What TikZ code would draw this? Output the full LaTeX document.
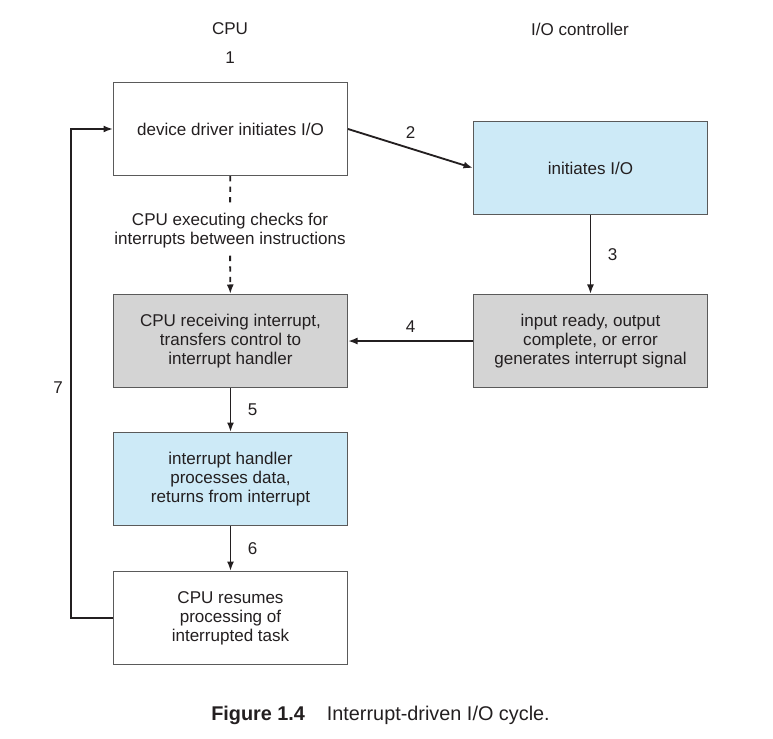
\documentclass[tikz,border=0pt]{standalone}
\usepackage{fontspec}
\setmainfont{Liberation Sans}
\usepackage{xcolor}
\definecolor{ioblue}{HTML}{CDEAF7}
\definecolor{iogray}{HTML}{D4D4D4}
\definecolor{edge}{HTML}{5A5A5A}
\definecolor{ink}{HTML}{231F20}
\usepackage{tikz}
\usetikzlibrary{arrows.meta, positioning}

\begin{document}
\begin{tikzpicture}[
    x=0.02cm, y=-0.02cm,
    node distance=2.36cm and 2.5cm,
    box/.style={
        rectangle, draw=edge, line width=0.6pt,
        minimum width=4.68cm,
        minimum height=1.86cm,
        align=center, font=\fontsize{9.7}{10.9}\selectfont, text=ink
    },
    lbl/.style={font=\fontsize{9.7}{10.9}\selectfont, text=ink},
    arr/.style={-{Latex[length=1.9mm, width=1.4mm]}, line width=1.05pt, draw=ink}
]
    \useasboundingbox (0,0) rectangle (773,739);

    \node[box, fill=white] (drv) at (230.5,129) {device driver initiates I/O};
    \node[box, fill=iogray, below=of drv] (recv) {CPU receiving interrupt,\\transfers control to\\interrupt handler};
    \node[box, fill=ioblue, below=0.88cm of recv] (hdl) {interrupt handler\\processes data,\\returns from interrupt};
    \node[box, fill=white, below=0.9cm of hdl] (resume) {CPU resumes\\processing of\\interrupted task};
    \node[box, fill=iogray, right=of recv] (sig) {input ready, output\\complete, or error\\generates interrupt signal};
    \node[box, fill=ioblue, above=1.58cm of sig] (init) {initiates I/O};

    % column headings
    \node[lbl] (cpu) at (230,29) {CPU};
    \node[lbl] (ioc) at (580,29) {I/O controller};
    \node[lbl] (n1) at (230,58) {1};

    % CPU polling
    \node[lbl, align=center, inner ysep=4.2pt] (chk) at (230,230.5) {CPU executing checks for\\interrupts between instructions};
    \draw[ink, dashed, line width=1.05pt] (drv) -- (chk);
    \draw[arr, dashed] (chk) -- (recv);

    \draw[arr] (drv.east) -- (init.west) node[lbl, pos=0.5, above=2pt] {2};
    \draw[arr] (init) -- (sig) node[lbl, midway, right=6pt] {3};
    \draw[arr] (sig) -- (recv) node[lbl, midway, above=1pt] {4};
    \draw[arr] (recv) -- (hdl) node[lbl, midway, right=6pt] {5};
    \draw[arr] (hdl) -- (resume) node[lbl, midway, right=6pt] {6};
    \draw[arr] (resume.west) -- ++(-42,0) |- (drv.west);
    \node[lbl] (n7) at (58,388) {7};

    \node[font=\fontsize{11.3}{13}\selectfont, text=ink] (cap) at (380.5,715)
        {\textbf{Figure 1.4}\hspace{1.1em}Interrupt-driven I/O cycle.};
\end{tikzpicture}
\end{document}
